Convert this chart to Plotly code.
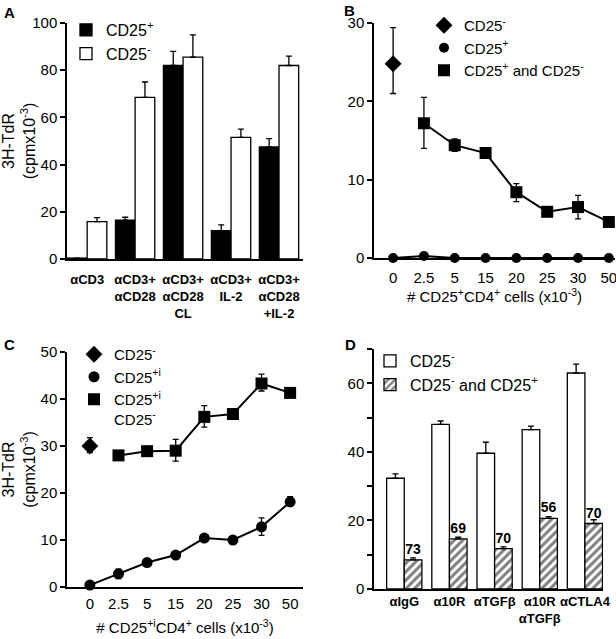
import plotly.graph_objects as go

# --- data ---
A_CATS = ["αCD3", "αCD3+<br>αCD28", "αCD3+<br>αCD28<br>CL", "αCD3+<br>IL-2", "αCD3+<br>αCD28<br>+IL-2"]
A_POS = [0.4, 16.5, 82, 12, 47.5]
A_POS_ERR = [0, 1.2, 6, 2.5, 3.5]
A_NEG = [15.8, 68.5, 85.5, 51.5, 82]
A_NEG_ERR = [1.7, 6.5, 9.5, 3.5, 4]

B_X = ["0", "2.5", "5", "15", "20", "25", "30", "50"]
B_NEG = [24.8]
B_NEG_UP = [4.6]
B_NEG_DN = [3.8]
B_POS = [0, 0.25, 0, 0, 0, 0, 0, 0]
B_MIX = [None, 17.2, 14.4, 13.4, 8.4, 5.9, 6.5, 4.6]
B_MIX_UP = [0, 3.3, 0.8, 0.6, 1.1, 0.3, 1.5, 0.3]
B_MIX_DN = [0, 3.2, 0.8, 0.6, 1.2, 0.3, 1.5, 0.3]

C_X = B_X
C_NEG = [30]
C_NEG_UP = [1.8]
C_NEG_DN = [1.4]
C_POS = [0.4, 2.8, 5.2, 6.8, 10.4, 10.0, 12.8, 18.1]
C_POS_UP = [0, 1.0, 0.5, 0.5, 0.6, 0.5, 1.9, 1.1]
C_POS_DN = [0, 1.0, 0.5, 0.5, 0.6, 0.5, 1.8, 0.8]
C_MIX = [None, 28.0, 28.9, 29.0, 36.2, 36.8, 43.3, 41.3]
C_MIX_UP = [0, 0.3, 0.3, 2.4, 2.4, 0.3, 2.0, 0.5]
C_MIX_DN = [0, 0.3, 0.3, 2.2, 2.2, 0.3, 1.6, 0.5]

D_CATS = ["αIgG", "α10R", "αTGFβ", "α10R<br>αTGFβ", "αCTLA4"]
D_NEG = [32.3, 48, 39.6, 46.5, 63]
D_NEG_ERR = [1.3, 1.0, 3.2, 1.0, 2.6]
D_MIX = [8.5, 14.6, 11.8, 20.6, 19.1]
D_MIX_ERR = [0.6, 0.5, 0.5, 0.5, 1.1]
D_LABELS = ["73", "69", "70", "56", "70"]

FONT = "Liberation Sans, Arial, sans-serif"
W, H = 616, 639


def px_x(a, b):
    return [a / W, b / W]


def px_y(top, bottom):
    return [1 - bottom / H, 1 - top / H]


fig = go.Figure()
err_style = dict(color="black", thickness=1.3, width=3)

# ---------- A ----------
ax = list(range(len(A_CATS)))
fig.add_trace(go.Bar(x=ax, y=A_POS, width=0.41, offset=-0.41, name="CD25<sup>+</sup>",
                     marker=dict(color="black", line=dict(color="black", width=1.3)),
                     error_y=dict(type="data", symmetric=False, array=A_POS_ERR,
                                  arrayminus=[0] * 5, **err_style),
                     xaxis="x", yaxis="y", legend="legend"))
fig.add_trace(go.Bar(x=ax, y=A_NEG, width=0.41, offset=0, name="CD25<sup>-</sup>",
                     marker=dict(color="white", line=dict(color="black", width=1.3)),
                     error_y=dict(type="data", symmetric=False, array=A_NEG_ERR,
                                  arrayminus=[0] * 5, **err_style),
                     xaxis="x", yaxis="y", legend="legend"))

# ---------- B ----------
bx = list(range(len(B_X)))
fig.add_trace(go.Scatter(x=bx, y=B_POS, mode="lines", line=dict(color="black", width=2),
                         showlegend=False, xaxis="x2", yaxis="y2", cliponaxis=False))
fig.add_trace(go.Scatter(x=bx, y=B_MIX, mode="lines", line=dict(color="black", width=2),
                         showlegend=False, xaxis="x2", yaxis="y2", cliponaxis=False))
fig.add_trace(go.Scatter(x=bx[:1], y=B_NEG, mode="markers", name="CD25<sup>-</sup>",
                         marker=dict(symbol="diamond", size=13, color="black"),
                         error_y=dict(type="data", symmetric=False, array=B_NEG_UP,
                                      arrayminus=B_NEG_DN, **err_style),
                         xaxis="x2", yaxis="y2", legend="legend2", cliponaxis=False))
fig.add_trace(go.Scatter(x=bx, y=B_POS, mode="markers", name="CD25<sup>+</sup>",
                         marker=dict(symbol="circle", size=10, color="black"),
                         xaxis="x2", yaxis="y2", legend="legend2", cliponaxis=False))
fig.add_trace(go.Scatter(x=bx, y=B_MIX, mode="markers", name="CD25<sup>+</sup> and CD25<sup>-</sup>",
                         marker=dict(symbol="square", size=12, color="black"),
                         error_y=dict(type="data", symmetric=False, array=B_MIX_UP,
                                      arrayminus=B_MIX_DN, **err_style),
                         xaxis="x2", yaxis="y2", legend="legend2", cliponaxis=False))

# ---------- C ----------
cx = list(range(len(C_X)))
fig.add_trace(go.Scatter(x=cx, y=C_POS, mode="lines", line=dict(color="black", width=2),
                         showlegend=False, xaxis="x3", yaxis="y3", cliponaxis=False))
fig.add_trace(go.Scatter(x=cx, y=C_MIX, mode="lines", line=dict(color="black", width=2),
                         showlegend=False, xaxis="x3", yaxis="y3", cliponaxis=False))
fig.add_trace(go.Scatter(x=cx[:1], y=C_NEG, mode="markers", name="CD25<sup>-</sup>",
                         marker=dict(symbol="diamond", size=13, color="black"),
                         error_y=dict(type="data", symmetric=False, array=C_NEG_UP,
                                      arrayminus=C_NEG_DN, **err_style),
                         xaxis="x3", yaxis="y3", legend="legend3", cliponaxis=False))
fig.add_trace(go.Scatter(x=cx, y=C_POS, mode="markers", name="CD25<sup>+i</sup>",
                         marker=dict(symbol="circle", size=11, color="black"),
                         error_y=dict(type="data", symmetric=False, array=C_POS_UP,
                                      arrayminus=C_POS_DN, **err_style),
                         xaxis="x3", yaxis="y3", legend="legend3", cliponaxis=False))
fig.add_trace(go.Scatter(x=cx, y=C_MIX, mode="markers", name="CD25<sup>+i</sup><br>CD25<sup>-</sup>",
                         marker=dict(symbol="square", size=12, color="black"),
                         error_y=dict(type="data", symmetric=False, array=C_MIX_UP,
                                      arrayminus=C_MIX_DN, **err_style),
                         xaxis="x3", yaxis="y3", legend="legend3", cliponaxis=False))

# ---------- D ----------
dx = list(range(len(D_CATS)))
fig.add_trace(go.Bar(x=dx, y=D_NEG, width=0.39, offset=-0.39, name="CD25<sup>-</sup>",
                     marker=dict(color="white", line=dict(color="black", width=1.3)),
                     error_y=dict(type="data", symmetric=False, array=D_NEG_ERR,
                                  arrayminus=[0] * 5, **err_style),
                     xaxis="x4", yaxis="y4", legend="legend4"))
fig.add_trace(go.Bar(x=dx, y=D_MIX, width=0.39, offset=0, name="CD25<sup>-</sup> and CD25<sup>+</sup>",
                     marker=dict(color="white", line=dict(color="black", width=1.3),
                                 pattern=dict(shape="/", fgcolor="black", bgcolor="white",
                                              size=6, solidity=0.5)),
                     text=[f"<b>{t}</b>" for t in D_LABELS], textposition="outside",
                     textfont=dict(size=14, color="black", family=FONT), cliponaxis=False,
                     error_y=dict(type="data", symmetric=False, array=D_MIX_ERR,
                                  arrayminus=[0] * 5, **err_style),
                     xaxis="x4", yaxis="y4", legend="legend4"))

yax = dict(showline=True, linecolor="black", linewidth=1.5, ticks="outside", ticklen=5,
           tickwidth=1.5, tickcolor="black", showgrid=False, zeroline=False, automargin=False,
           tickfont=dict(size=15, color="black"))
xax = dict(showline=True, linecolor="black", linewidth=1.5, ticks="", showgrid=False,
           zeroline=False, automargin=False, tickangle=0, ticklabeloverflow="allow",
           tickfont=dict(size=15, color="black"))
ytitle = dict(text="3H-TdR<br>(cpmx10<sup>-3</sup>)", font=dict(size=16), standoff=3)

fig.update_layout(
    width=W, height=H, margin=dict(l=0, r=0, t=0, b=0),
    paper_bgcolor="white", plot_bgcolor="white",
    font=dict(family=FONT, color="black", size=15),
    xaxis=dict(xax, domain=px_x(67, 303), range=[-0.42, 4.5], tickvals=ax,
               ticktext=[f"<b>{c}</b>" for c in A_CATS], tickfont=dict(size=13),
               ticklabelstandoff=8, anchor="y"),
    yaxis=dict(yax, domain=px_y(23, 259), range=[0, 100], dtick=20, anchor="x", title=ytitle),
    xaxis2=dict(xax, domain=px_x(374, 615), range=[-0.62, 7.2], tickvals=bx, ticktext=B_X,
                anchor="y2", ticklabelstandoff=5,
                title=dict(text="# CD25<sup>+</sup>CD4<sup>+</sup> cells (x10<sup>-3</sup>)",
                           font=dict(size=15), standoff=6)),
    yaxis2=dict(yax, domain=px_y(23, 258), range=[0, 30], dtick=10, anchor="x2"),
    xaxis3=dict(xax, domain=px_x(67, 303), range=[-0.8, 7.45], tickvals=cx, ticktext=C_X,
                anchor="y3", ticklabelstandoff=2,
                title=dict(text="# CD25<sup>+i</sup>CD4<sup>+</sup> cells (x10<sup>-3</sup>)",
                           font=dict(size=15), standoff=12)),
    yaxis3=dict(yax, domain=px_y(352, 587), range=[0, 50], dtick=10, anchor="x3", title=ytitle),
    xaxis4=dict(xax, domain=px_x(374, 603), range=[-0.67, 4.4], tickvals=dx,
                ticktext=[f"<b>{c}</b>" for c in D_CATS], tickfont=dict(size=13), anchor="y4"),
    yaxis4=dict(yax, domain=px_y(349, 589), range=[0, 70], tickvals=list(range(0, 71, 10)),
                ticktext=["0", "", "20", "", "40", "", "60", ""], anchor="x4"),
    legend=dict(x=66 / W, y=1 - 13 / H, xanchor="left", yanchor="top", bgcolor="rgba(0,0,0,0)",
                font=dict(size=16), tracegroupgap=0, traceorder="normal"),
    legend2=dict(x=424 / W, y=1 - 9 / H, xanchor="left", yanchor="top", bgcolor="rgba(0,0,0,0)",
                 font=dict(size=15), tracegroupgap=0),
    legend3=dict(x=74 / W, y=1 - 338 / H, xanchor="left", yanchor="top", bgcolor="rgba(0,0,0,0)",
                 font=dict(size=15), tracegroupgap=0, valign="top"),
    legend4=dict(x=370 / W, y=1 - 344 / H, xanchor="left", yanchor="top", bgcolor="rgba(0,0,0,0)",
                 font=dict(size=16), tracegroupgap=0),
    showlegend=True,
)

for label, x, y in [("A", 9, 12), ("B", 349, 10), ("C", 10, 344), ("D", 350, 344)]:
    fig.add_annotation(text=f"<b>{label}</b>", x=x / W, y=1 - y / H, xref="paper", yref="paper",
                       showarrow=False, font=dict(size=15), xanchor="center", yanchor="middle")

# the page's default body margin would push the figure 8px off the window
fig.write_html("out.html", config={"displayModeBar": False},
               post_script="document.body.style.margin='0px';")
